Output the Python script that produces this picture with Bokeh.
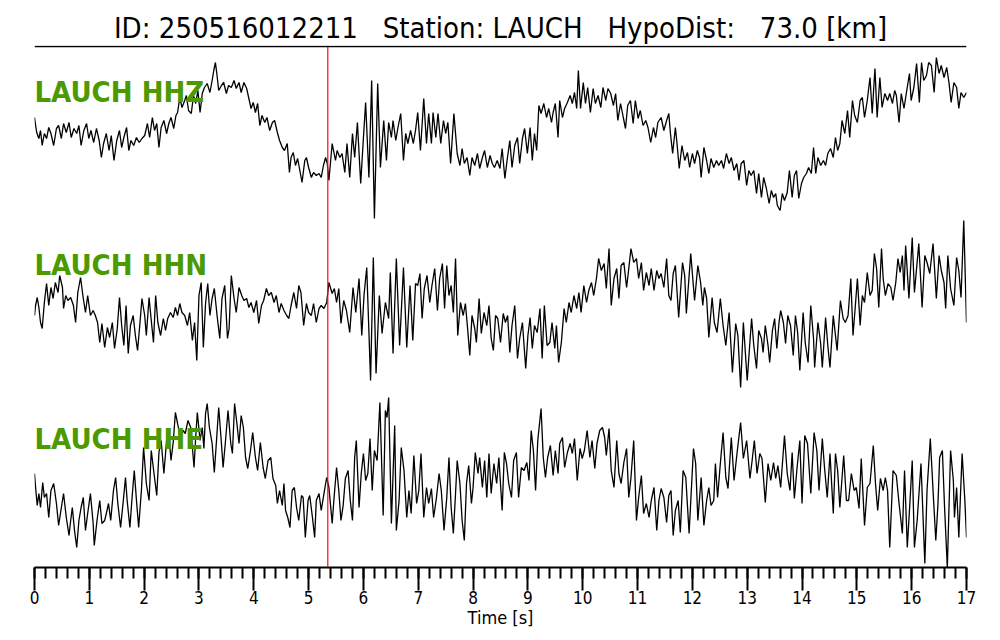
from bokeh.plotting import figure
from bokeh.models import Range1d, Span, Label, SingleIntervalTicker
from bokeh.embed import file_html
from bokeh.resources import INLINE

event_id = "250516012211"
station = "LAUCH"
hypo_dist_km = 73.0
pick_time = 5.35  # s (red marker)
channels = ["HHZ", "HHN", "HHE"]

# ---- HHZ trace (time [s], amplitude [counts, arbitrary]) ----
t_hhz = [0.00,0.04,0.08,0.11,0.14,0.18,0.22,0.26,0.30,0.35,0.40,0.44,0.49,0.53,0.58,0.63,0.67,0.72,0.77,0.81,
         0.85,0.90,0.95,0.99,1.03,1.08,1.13,1.18,1.22,1.26,1.31,1.36,1.40,1.45,1.50,1.55,1.59,1.63,1.68,1.72,
         1.76,1.81,1.86,1.91,1.96,2.01,2.06,2.10,2.15,2.19,2.23,2.27,2.31,2.36,2.41,2.45,2.49,2.54,2.58,2.61,
         2.65,2.69,2.74,2.77,2.81,2.86,2.90,2.94,2.98,3.02,3.06,3.10,3.15,3.20,3.24,3.27,3.30,3.33,3.36,3.41,
         3.45,3.50,3.54,3.59,3.64,3.68,3.73,3.77,3.82,3.87,3.91,3.95,3.99,4.03,4.07,4.11,4.15,4.20,4.24,4.29,
         4.34,4.38,4.43,4.47,4.52,4.56,4.61,4.65,4.68,4.72,4.76,4.80,4.84,4.88,4.93,4.96,5.00,5.05,5.09,5.14,
         5.19,5.23,5.27,5.31,5.34,5.37,5.43,5.49,5.52,5.57,5.61,5.66,5.70,5.75,5.80,5.84,5.89,5.95,6.00,6.04,
         6.10,6.15,6.20,6.26,6.31,6.37,6.42,6.46,6.51,6.54,6.59,6.63,6.68,6.73,6.77,6.81,6.86,6.91,6.95,6.99,
         7.04,7.10,7.15,7.19,7.24,7.27,7.32,7.36,7.41,7.46,7.50,7.54,7.59,7.65,7.71,7.76,7.80,7.84,7.89,7.94,
         7.98,8.03,8.08,8.12,8.17,8.21,8.26,8.31,8.35,8.39,8.44,8.49,8.53,8.58,8.62,8.67,8.71,8.76,8.81,8.85,
         8.90,8.94,8.99,9.04,9.08,9.12,9.16,9.20,9.24,9.29,9.34,9.38,9.43,9.46,9.50,9.55,9.58,9.63,9.67,9.72,
         9.77,9.81,9.85,9.89,9.92,9.96,10.01,10.05,10.09,10.14,10.19,10.23,10.28,10.33,10.37,10.42,10.46,10.51,10.56,10.60,
         10.64,10.69,10.74,10.78,10.82,10.87,10.92,10.96,11.01,11.05,11.10,11.15,11.19,11.24,11.29,11.33,11.37,11.43,11.48,11.53,
         11.57,11.60,11.64,11.69,11.72,11.76,11.81,11.86,11.91,11.95,12.00,12.04,12.09,12.13,12.16,12.21,12.26,12.30,12.34,12.39,
         12.44,12.48,12.53,12.57,12.62,12.67,12.71,12.76,12.81,12.85,12.89,12.94,12.99,13.03,13.07,13.12,13.17,13.21,13.26,13.30,
         13.35,13.40,13.44,13.48,13.52,13.55,13.60,13.64,13.68,13.73,13.77,13.82,13.86,13.90,13.94,13.99,14.03,14.08,14.12,14.17,
         14.21,14.25,14.29,14.34,14.39,14.43,14.47,14.52,14.57,14.61,14.65,14.69,14.73,14.78,14.83,14.87,14.92,14.96,15.01,15.06,
         15.10,15.14,15.19,15.24,15.28,15.33,15.37,15.42,15.46,15.51,15.56,15.60,15.65,15.69,15.72,15.77,15.81,15.86,15.91,15.96,
         15.99,16.04,16.09,16.14,16.18,16.22,16.27,16.31,16.36,16.41,16.45,16.50,16.54,16.59,16.64,16.68,16.72,16.77,16.82,16.86,
         16.90,16.95,17.00]
a_hhz = [18,3,-3,5,-10,2,-3,8,2,-10,7,10,-3,12,3,13,-2,7,2,10,
         -10,5,12,-3,5,-7,7,-5,-22,-8,2,-15,0,-25,-5,5,-12,-2,8,-15,
         -5,-10,-2,-7,-3,0,12,-2,18,5,12,-12,8,15,2,12,18,7,20,23,
         38,28,35,40,25,22,40,32,45,23,42,48,52,43,55,65,73,60,45,50,
         53,42,50,48,55,47,53,43,53,47,37,27,33,23,32,10,20,13,18,5,
         13,15,3,-5,-12,-15,-8,-37,-22,-17,-30,-23,-35,-47,-25,-22,-32,-42,-37,-40,
         -38,-42,-30,-22,-28,-45,-8,-25,-15,-22,-18,-37,-8,-42,2,-22,13,-48,-2,33,
         -42,55,-83,52,-32,15,-25,13,-2,15,-5,8,22,-25,2,-8,5,-8,5,23,
         -15,37,-8,22,-8,23,-2,22,-8,15,2,13,-28,22,-18,-30,-13,-28,-22,-40,
         -22,-30,-18,-33,-22,-15,-32,-20,-28,-32,-25,-33,-13,-43,-25,-5,-32,-10,-2,-28,
         -3,7,-18,8,-25,2,-15,30,22,32,18,27,13,23,32,-2,35,18,27,33,
         40,32,43,27,65,27,53,32,48,23,47,32,40,28,48,35,47,42,30,42,
         15,32,18,7,30,35,12,35,17,25,10,15,8,-7,8,-2,13,18,5,15,
         22,2,-18,8,-8,-33,-10,-25,-17,-32,-18,-28,-15,-22,-42,-12,-25,-38,-23,-32,
         -25,-30,-25,-33,-18,-28,-22,-35,-28,-45,-28,-25,-50,-35,-40,-35,-58,-38,-62,-42,
         -53,-68,-55,-62,-58,-70,-75,-58,-65,-57,-35,-62,-40,-35,-63,-48,-42,-38,-32,-38,
         -12,-38,-22,-30,-25,-30,-18,-13,-22,-2,-15,-8,15,2,25,-2,35,20,13,35,
         38,18,35,58,22,67,18,58,28,42,35,42,32,45,40,13,42,27,45,62,
         35,48,72,33,73,55,60,73,70,43,78,62,70,58,68,53,33,53,48,27,
         43,38,43]

# ---- HHN trace ----
t_hhn = [0.00,0.02,0.05,0.08,0.11,0.14,0.18,0.22,0.26,0.30,0.34,0.38,0.43,0.46,0.51,0.53,0.57,0.61,0.66,0.71,
         0.75,0.79,0.84,0.89,0.93,0.97,1.02,1.07,1.11,1.15,1.19,1.23,1.28,1.33,1.37,1.42,1.46,1.51,1.55,1.59,
         1.63,1.67,1.71,1.75,1.80,1.84,1.88,1.92,1.96,2.01,2.04,2.09,2.13,2.17,2.21,2.25,2.30,2.35,2.39,2.43,
         2.48,2.53,2.57,2.61,2.65,2.69,2.74,2.79,2.83,2.88,2.92,2.96,3.00,3.04,3.08,3.12,3.16,3.20,3.24,3.28,
         3.33,3.38,3.42,3.47,3.52,3.55,3.59,3.64,3.68,3.73,3.78,3.82,3.87,3.91,3.95,4.00,4.05,4.09,4.14,4.18,
         4.23,4.27,4.32,4.37,4.41,4.46,4.50,4.55,4.60,4.64,4.68,4.73,4.78,4.82,4.86,4.91,4.96,5.00,5.05,5.09,
         5.14,5.19,5.23,5.28,5.33,5.37,5.43,5.47,5.51,5.55,5.59,5.64,5.69,5.75,5.81,5.86,5.92,5.97,6.01,6.06,
         6.13,6.18,6.23,6.29,6.34,6.40,6.46,6.49,6.54,6.60,6.66,6.73,6.79,6.85,6.90,6.95,6.99,7.03,7.07,7.11,
         7.16,7.21,7.25,7.30,7.35,7.39,7.44,7.48,7.52,7.56,7.60,7.64,7.68,7.72,7.77,7.82,7.86,7.90,7.94,7.98,
         8.03,8.06,8.11,8.15,8.20,8.25,8.29,8.33,8.37,8.41,8.45,8.50,8.55,8.59,8.63,8.67,8.71,8.76,8.81,8.85,
         8.90,8.96,9.00,9.04,9.08,9.12,9.17,9.22,9.26,9.30,9.35,9.40,9.44,9.49,9.52,9.56,9.61,9.66,9.70,9.75,
         9.79,9.84,9.89,9.93,9.97,10.02,10.07,10.11,10.16,10.20,10.25,10.29,10.34,10.39,10.43,10.48,10.52,10.57,10.62,10.66,
         10.70,10.75,10.80,10.84,10.88,10.93,10.98,11.02,11.07,11.11,11.16,11.21,11.25,11.30,11.35,11.39,11.43,11.48,11.53,11.57,
         11.61,11.65,11.69,11.75,11.82,11.86,11.89,11.97,12.04,12.10,12.15,12.19,12.22,12.26,12.30,12.36,12.40,12.45,12.51,12.56,
         12.61,12.67,12.73,12.79,12.83,12.88,12.93,13.00,13.08,13.12,13.17,13.21,13.26,13.29,13.33,13.38,13.41,13.46,13.50,13.54,
         13.58,13.61,13.66,13.70,13.74,13.79,13.84,13.88,13.92,13.96,14.02,14.06,14.11,14.16,14.21,14.23,14.29,14.34,14.37,14.43,
         14.47,14.51,14.57,14.61,14.64,14.70,14.75,14.79,14.84,14.89,14.93,14.98,15.01,15.06,15.10,15.14,15.19,15.24,15.28,15.32,
         15.36,15.40,15.45,15.48,15.52,15.57,15.62,15.66,15.71,15.75,15.79,15.83,15.86,15.89,15.95,16.01,16.05,16.13,16.19,16.24,
         16.28,16.33,16.39,16.45,16.50,16.54,16.59,16.62,16.66,16.71,16.77,16.82,16.86,16.90,16.95,17.00]
a_hhn = [-10,0,8,-2,-17,-23,3,22,0,18,7,23,13,30,18,-3,10,5,8,0,
         -17,13,28,7,-7,10,-10,-5,-10,-17,-37,-18,-42,-22,-32,-17,-43,-23,8,-20,
         -40,0,-48,-20,-10,-30,-45,-20,7,-10,-30,8,-15,-37,10,-17,-30,-13,-25,-13,
         -7,-12,-2,-10,2,-7,-10,-20,-7,-35,-17,-55,10,23,-42,2,22,-10,7,17,
         -10,-33,7,20,-33,-23,30,7,-7,18,10,5,7,-2,3,-7,5,-18,0,5,
         17,10,13,3,10,-7,2,-5,-10,-13,0,13,-3,20,13,-20,2,-7,-10,2,
         -17,-3,0,-3,3,23,12,17,3,17,-18,5,-5,-27,18,-7,27,-30,10,38,
         -75,48,-68,10,-28,3,-13,33,-48,47,-40,38,-42,20,-35,22,20,32,-13,17,
         30,3,20,37,-5,27,42,-3,40,10,20,-7,47,-30,3,-10,2,-23,-50,-10,
         -23,-37,7,-28,-7,-20,0,-33,-45,-10,-13,-37,-8,-17,-10,-47,-20,0,-53,-33,
         -17,-63,-30,-12,-43,-20,-27,-3,-53,0,-40,-37,-17,-43,-20,-57,-37,-3,-17,3,
         -7,10,-3,13,-7,20,3,15,23,10,27,47,35,42,17,57,0,27,37,7,
         40,43,18,37,57,43,47,27,43,15,33,20,37,15,35,27,32,18,47,10,
         5,32,40,-12,43,30,-8,52,5,40,23,0,18,7,-32,8,-17,-27,7,-20,
         -40,-7,-67,-18,-30,-82,-17,-75,-13,-40,-63,-25,-33,-47,-20,-40,-57,-25,-13,-43,
         -17,-5,-17,-38,-10,-20,-50,-10,-27,-65,-7,-38,-57,0,-33,-62,-17,-38,-62,-12,
         -40,-62,-10,-30,-45,5,-13,-17,-10,27,-30,5,27,-20,10,3,33,10,15,52,
         37,-2,57,27,10,22,18,5,23,47,33,50,15,60,7,68,13,62,-2,50,
         43,32,62,7,50,35,23,-3,50,17,0,48,35,8,85,-17]

# ---- HHE trace ----
t_hhe = [0.00,0.02,0.05,0.08,0.11,0.15,0.18,0.22,0.26,0.30,0.35,0.40,0.44,0.49,0.53,0.58,0.63,0.66,0.69,0.73,
         0.77,0.81,0.85,0.89,0.93,0.97,1.02,1.07,1.09,1.14,1.19,1.23,1.28,1.31,1.35,1.39,1.44,1.48,1.52,1.57,
         1.62,1.66,1.69,1.74,1.78,1.82,1.86,1.90,1.95,1.99,2.04,2.09,2.13,2.18,2.23,2.27,2.31,2.36,2.41,2.45,
         2.49,2.53,2.57,2.61,2.66,2.71,2.75,2.80,2.85,2.88,2.91,2.94,2.97,3.02,3.06,3.09,3.12,3.15,3.19,3.24,
         3.28,3.32,3.36,3.41,3.44,3.48,3.53,3.58,3.61,3.65,3.70,3.73,3.77,3.81,3.85,3.89,3.94,3.98,4.03,4.07,
         4.12,4.17,4.21,4.26,4.31,4.35,4.40,4.43,4.47,4.52,4.55,4.58,4.62,4.66,4.70,4.74,4.78,4.82,4.87,4.90,
         4.94,4.99,5.02,5.07,5.11,5.14,5.19,5.23,5.28,5.33,5.37,5.43,5.46,5.51,5.55,5.59,5.63,5.67,5.72,5.76,
         5.80,5.84,5.87,5.92,5.96,6.00,6.04,6.08,6.12,6.16,6.20,6.25,6.30,6.36,6.40,6.43,6.46,6.51,6.57,6.60,
         6.65,6.69,6.74,6.79,6.83,6.87,6.92,6.97,7.01,7.05,7.10,7.15,7.19,7.24,7.28,7.33,7.38,7.42,7.47,7.52,
         7.56,7.60,7.64,7.68,7.71,7.76,7.80,7.84,7.88,7.92,7.97,8.00,8.04,8.09,8.12,8.17,8.21,8.25,8.29,8.33,
         8.38,8.43,8.47,8.53,8.57,8.61,8.65,8.70,8.74,8.79,8.83,8.88,8.93,8.98,9.02,9.06,9.10,9.14,9.18,9.24,
         9.28,9.32,9.36,9.41,9.46,9.50,9.55,9.58,9.63,9.67,9.72,9.77,9.81,9.85,9.90,9.95,9.99,10.03,10.08,10.13,
         10.17,10.22,10.26,10.31,10.36,10.40,10.43,10.48,10.52,10.57,10.62,10.66,10.70,10.75,10.80,10.84,10.88,10.93,10.98,11.02,
         11.07,11.11,11.16,11.21,11.25,11.30,11.35,11.39,11.43,11.48,11.53,11.57,11.61,11.65,11.69,11.74,11.78,11.83,11.88,11.94,
         12.02,12.06,12.10,12.16,12.21,12.26,12.30,12.34,12.39,12.42,12.46,12.51,12.56,12.61,12.65,12.71,12.76,12.82,12.88,12.93,
         12.99,13.05,13.09,13.13,13.18,13.23,13.27,13.33,13.38,13.43,13.48,13.52,13.56,13.61,13.68,13.73,13.78,13.82,13.86,13.91,
         13.96,14.00,14.05,14.10,14.16,14.22,14.27,14.31,14.37,14.41,14.46,14.51,14.57,14.61,14.65,14.69,14.76,14.81,14.85,14.90,
         14.95,14.99,15.04,15.08,15.14,15.19,15.24,15.30,15.34,15.38,15.43,15.48,15.52,15.56,15.60,15.66,15.72,15.77,15.83,15.87,
         15.92,15.97,16.01,16.05,16.10,16.17,16.24,16.28,16.34,16.39,16.44,16.48,16.51,16.56,16.60,16.65,16.71,16.76,16.78,16.82,
         16.86,16.92,16.97,17.00]
a_hhe = [12,-2,-20,-8,-22,3,-12,-8,-32,-5,2,-18,-40,-22,-8,-32,-50,-35,-22,-45,
         -62,-35,-22,-12,-45,-28,-8,-38,-60,-35,-15,-38,-35,-28,-18,-35,-5,8,-18,-42,
         -15,8,-15,-42,-12,15,-15,-42,-5,38,2,-15,35,12,-10,33,45,12,45,52,
         25,43,73,62,48,55,52,65,58,38,18,48,73,45,58,37,72,82,58,42,
         13,45,78,42,18,42,75,42,32,82,58,42,70,58,28,17,35,53,28,15,
         43,18,7,25,28,7,0,-18,-5,-20,2,-25,-32,-42,-5,-2,-22,-35,-10,-12,
         -52,-15,-10,-32,-52,-15,-8,-25,-8,8,-2,-38,-15,18,-5,-35,-20,7,15,-15,
         -35,28,45,-22,12,32,5,12,47,-5,35,25,83,-30,75,68,88,-38,60,-45,
         -15,38,15,-32,-5,-28,30,-18,-5,32,-32,-2,-18,-3,-32,-13,12,-5,-45,-12,
         28,-22,-48,-8,25,2,-35,-55,2,20,-18,-2,33,12,28,-2,25,-12,32,-8,
         22,2,28,-25,33,22,2,-12,25,33,-12,18,15,23,5,55,35,-5,45,77,
         28,8,28,40,10,35,12,42,48,18,33,42,32,47,5,37,27,35,55,28,
         45,17,42,55,58,48,30,57,15,-2,45,12,2,23,37,-12,8,45,-35,-12,
         10,-28,-18,-32,-15,-2,-45,-15,-3,-12,-37,-10,-5,-50,-25,-15,-47,15,8,-48,
         37,22,-35,8,-40,-15,-2,-20,-15,22,-12,22,53,8,-3,48,5,35,63,27,
         45,7,25,45,12,32,27,-17,22,5,23,7,20,-2,50,12,-5,33,-13,18,
         45,-18,50,42,-8,53,35,-5,47,18,-12,32,-28,32,15,-22,30,-15,-15,12,
         -5,-2,-23,27,-40,-2,2,40,2,-25,7,-5,8,-5,-62,15,10,-18,-48,15,
         -62,-15,25,-62,-35,22,-78,-5,47,-5,-55,-18,28,35,-22,-82,35,5,-32,-2,
         -52,32,-15,-52]

traces = {"HHZ": (t_hhz, a_hhz), "HHN": (t_hhn, a_hhn), "HHE": (t_hhe, a_hhe)}
trace_offset = {"HHZ": 350, "HHN": 180, "HHE": 0}
label_offset = {"HHZ": 44, "HHN": 41, "HHE": 47}

COND = "'DejaVu Sans Condensed', 'DejaVu Sans', sans-serif"

title = (f"ID: {event_id}\u00a0\u00a0\u00a0Station: {station}\u00a0\u00a0\u00a0"
         f"HypoDist:\u00a0\u00a0\u00a0{hypo_dist_km:.1f} [km]")

p = figure(width=1000, height=640, output_backend="svg", toolbar_location=None,
           x_range=Range1d(0, 17), y_range=Range1d(-82, 440),
           min_border_left=34, min_border_right=34, min_border_top=45, min_border_bottom=73,
           y_axis_location=None, title=title)
p.outline_line_color = None
p.xgrid.visible = False
p.ygrid.visible = False
p.background_fill_color = "white"
p.border_fill_color = "white"

p.title.align = "center"
p.title.text_font = COND
p.title.text_font_style = "normal"
p.title.text_font_size = "29px"
p.title.text_color = "black"
p.title.standoff = 2

for ch in channels:
    t, a = traces[ch]
    off = trace_offset[ch]
    p.line(t, [off + v for v in a], line_color="black", line_width=1.3)
    p.add_layout(Label(x=0, y=off + label_offset[ch], text=f"{station} {ch}",
                       text_font=COND, text_font_style="bold", text_font_size="29px",
                       text_color="#4C9900", text_baseline="middle", text_align="left"))

p.add_layout(Span(location=pick_time, dimension="height", line_color="#E8141C", line_width=1.2))
p.add_layout(Span(location=439, dimension="width", line_color="black", line_width=1.6))

ax = p.xaxis[0]
ax.ticker = SingleIntervalTicker(interval=1, num_minor_ticks=5)
ax.axis_label = "Time [s]"
ax.axis_label_text_font = COND
ax.axis_label_text_font_style = "normal"
ax.axis_label_text_font_size = "18px"
ax.axis_label_text_color = "black"
ax.axis_label_standoff = 0
ax.major_label_text_font = COND
ax.major_label_text_font_size = "17px"
ax.major_label_text_color = "black"
ax.major_label_standoff = 0
ax.axis_line_width = 2
ax.axis_line_color = "black"
ax.major_tick_line_width = 2
ax.minor_tick_line_width = 2
ax.major_tick_in = 0
ax.major_tick_out = 23
ax.minor_tick_in = 0
ax.minor_tick_out = 11

open("out.html", "w").write(file_html(p, INLINE))
